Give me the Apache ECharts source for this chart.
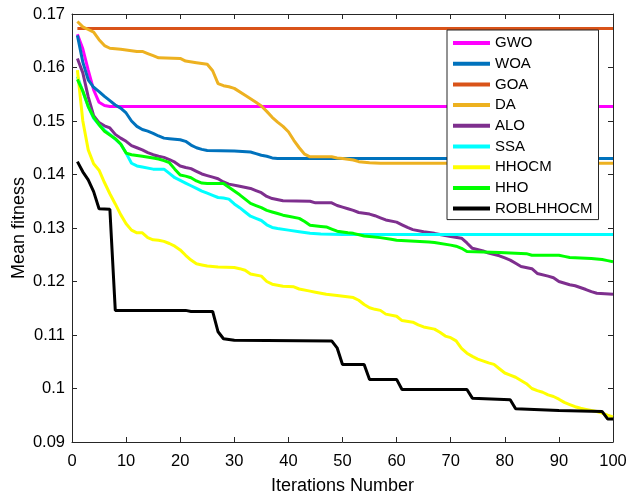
<!DOCTYPE html>
<html>
<head>
<meta charset="utf-8">
<script src="https://cdn.jsdelivr.net/npm/echarts@6/dist/echarts.min.js"></script>
<style>
  html, body { margin: 0; padding: 0; background: #fff; }
  #chart { width: 627px; height: 496px; }
</style>
</head>
<body>
<div id="chart"></div>
<script>
// Mean fitness per iteration for each optimiser, as [iteration, fitness] pairs.
const GWO = [[1,0.1662],[2,0.1635],[3,0.1595],[4,0.1558],[5,0.1535],[6,0.1529],[7,0.1527],[100,0.1527]];
const WOA = [[1,0.1660],[2,0.1610],[3,0.1577],[4,0.1563],[5,0.1555],[6,0.1546],[7,0.1538],[8,0.1530],[9,0.1524],[10,0.1515],[11,0.1500],[12,0.1490],[13,0.1484],[14,0.1481],[15,0.1477],[16,0.1472],[17,0.1468],[18,0.1467],[20,0.1465],[21,0.1462],[22,0.1455],[23,0.1450],[24,0.1447],[25,0.1445],[30,0.1444],[33,0.1442],[34,0.1439],[35,0.1436],[36,0.1434],[37,0.1431],[38,0.1430],[100,0.1430]];
const GOA = [[1,0.1673],[100,0.1673]];
const DA = [[1,0.1686],[2,0.1676],[3,0.1671],[4,0.1666],[5,0.1652],[6,0.1641],[7,0.1636],[9,0.1634],[12,0.1630],[13,0.1630],[14,0.1626],[15,0.1622],[16,0.1618],[20,0.1617],[21,0.1612],[23,0.1609],[25,0.1606],[26,0.1594],[27,0.1570],[28,0.1566],[29,0.1564],[30,0.1561],[32,0.1548],[34,0.1535],[35,0.1528],[36,0.1518],[37,0.1507],[38,0.1498],[39,0.1490],[40,0.1480],[41,0.1464],[42,0.1450],[43,0.1438],[44,0.1433],[48,0.1433],[49,0.1431],[50,0.1430],[52,0.1427],[53,0.1424],[55,0.1422],[57,0.1421],[100,0.1421]];
const ALO = [[1,0.1617],[2,0.1590],[3,0.1545],[4,0.1510],[5,0.1497],[6,0.1491],[7,0.1487],[8,0.1475],[9,0.1468],[10,0.1462],[11,0.1454],[12,0.1450],[13,0.1446],[14,0.1441],[15,0.1437],[16,0.1434],[17,0.1432],[18,0.1428],[19,0.1423],[20,0.1416],[21,0.1413],[22,0.1411],[23,0.1406],[24,0.1401],[25,0.1398],[26,0.1395],[27,0.1392],[28,0.1386],[29,0.1382],[31,0.1378],[33,0.1374],[34,0.1370],[35,0.1366],[36,0.1359],[37,0.1355],[39,0.1351],[44,0.1350],[45,0.1347],[48,0.1347],[49,0.1342],[50,0.1339],[51,0.1336],[52,0.1333],[53,0.1329],[55,0.1326],[56,0.1323],[57,0.1319],[58,0.1315],[60,0.1311],[61,0.1306],[62,0.1301],[63,0.1297],[65,0.1293],[67,0.1290],[68,0.1288],[70,0.1284],[72,0.1281],[73,0.1272],[74,0.1262],[76,0.1257],[77,0.1253],[79,0.1248],[80,0.1244],[81,0.1240],[82,0.1234],[83,0.1228],[85,0.1224],[86,0.1215],[88,0.1210],[89,0.1207],[90,0.1200],[92,0.1194],[93,0.1192],[95,0.1185],[96,0.1181],[97,0.1178],[100,0.1176]];
const SSA = [[1,0.1583],[2,0.1555],[3,0.1527],[4,0.1505],[5,0.1493],[6,0.1483],[7,0.1475],[8,0.1466],[9,0.1457],[10,0.1440],[11,0.1421],[12,0.1416],[13,0.1414],[15,0.1410],[17,0.1410],[18,0.1402],[19,0.1394],[20,0.1389],[21,0.1384],[22,0.1379],[23,0.1374],[24,0.1369],[25,0.1365],[26,0.1361],[27,0.1357],[28,0.1356],[29,0.1354],[30,0.1345],[31,0.1338],[32,0.1330],[33,0.1322],[34,0.1318],[35,0.1314],[36,0.1306],[37,0.1301],[38,0.1299],[40,0.1296],[42,0.1293],[44,0.1290],[46,0.1289],[50,0.1288],[100,0.1288]];
const HHOCM = [[1,0.1595],[2,0.1500],[3,0.1446],[4,0.1420],[5,0.1408],[6,0.1385],[7,0.1364],[8,0.1345],[9,0.1325],[10,0.1308],[11,0.1296],[12,0.1291],[13,0.1291],[14,0.1282],[15,0.1278],[16,0.1277],[17,0.1275],[18,0.1271],[19,0.1266],[20,0.1259],[21,0.1249],[22,0.1240],[23,0.1233],[24,0.1231],[25,0.1229],[27,0.1227],[30,0.1226],[31,0.1224],[32,0.1221],[33,0.1214],[35,0.1210],[36,0.1200],[37,0.1195],[39,0.1191],[41,0.1190],[42,0.1186],[44,0.1182],[45,0.1180],[47,0.1176],[49,0.1174],[52,0.1170],[53,0.1165],[54,0.1157],[55,0.1151],[56,0.1148],[57,0.1146],[58,0.1139],[60,0.1135],[61,0.1127],[63,0.1124],[64,0.1119],[65,0.1115],[67,0.1111],[68,0.1105],[69,0.1098],[70,0.1095],[71,0.1089],[72,0.1075],[73,0.1066],[74,0.1060],[75,0.1055],[77,0.1048],[78,0.1045],[79,0.1037],[80,0.1029],[81,0.1025],[82,0.1021],[83,0.1015],[84,0.1009],[85,0.1000],[86,0.0996],[87,0.0993],[88,0.0988],[89,0.0985],[90,0.0980],[91,0.0974],[92,0.0970],[93,0.0966],[94,0.0963],[95,0.0961],[96,0.0959],[97,0.0957],[98,0.0954],[99,0.0950],[100,0.0947]];
const HHO = [[1,0.1578],[2,0.1556],[3,0.1527],[4,0.1507],[5,0.1493],[6,0.1481],[7,0.1474],[8,0.1467],[9,0.1457],[10,0.1440],[11,0.1437],[13,0.1434],[15,0.1431],[16,0.1429],[17,0.1426],[18,0.1422],[19,0.1410],[20,0.1399],[21,0.1397],[22,0.1394],[23,0.1388],[24,0.1384],[25,0.1383],[28,0.1383],[29,0.1376],[30,0.1369],[31,0.1362],[32,0.1354],[33,0.1346],[34,0.1342],[35,0.1338],[36,0.1333],[37,0.1330],[38,0.1327],[39,0.1324],[40,0.1322],[42,0.1318],[43,0.1312],[44,0.1305],[46,0.1303],[47,0.1302],[48,0.1298],[49,0.1294],[51,0.1291],[52,0.1290],[54,0.1285],[57,0.1282],[59,0.1279],[60,0.1277],[66,0.1274],[67,0.1273],[70,0.1268],[71,0.1266],[72,0.1262],[73,0.1256],[79,0.1254],[84,0.1252],[85,0.1249],[90,0.1249],[91,0.1247],[92,0.1245],[96,0.1243],[98,0.1241],[99,0.1239],[100,0.1237]];
const ROBLHHOCM = [[1,0.1424],[2,0.1405],[3,0.1390],[4,0.1368],[5,0.1336],[7,0.1335],[8,0.1146],[21,0.1146],[22,0.1144],[26,0.1144],[27,0.1106],[28,0.1093],[30,0.1090],[48,0.1089],[49,0.1076],[50,0.1045],[54,0.1045],[55,0.1017],[60,0.1017],[61,0.0998],[73,0.0998],[74,0.0982],[81,0.0979],[82,0.0962],[90,0.0959],[98,0.0957],[99,0.0943],[100,0.0943]];

const names  = ['GWO', 'WOA', 'GOA', 'DA', 'ALO', 'SSA', 'HHOCM', 'HHO', 'ROBLHHOCM'];
const values = [GWO, WOA, GOA, DA, ALO, SSA, HHOCM, HHO, ROBLHHOCM];
const colors = ['#ff00ff', '#0072bd', '#d95319', '#edb120', '#7e2f8e', '#00ffff', '#ffff00', '#00ff00', '#000000'];

const FONT = '"Liberation Sans", Arial, Helvetica, sans-serif';
const INK = '#262626';

const axisCommon = {
  nameMoveOverlap: false,
  axisLine: { show: true, onZero: false, lineStyle: { color: INK, width: 1 } },
  axisTick: { show: true, inside: true, length: 5, lineStyle: { color: INK, width: 1 } },
  splitLine: { show: false }
};

const chart = echarts.init(document.getElementById('chart'), null, { renderer: 'canvas' });

chart.setOption({
  animation: false,
  backgroundColor: '#ffffff',
  grid: { left: 72, right: 14, top: 14, bottom: 54, containLabel: false, outerBoundsMode: 'none' },
  legend: {
    orient: 'vertical',
    left: 447,
    top: 30,
    z: 50,
    padding: [5, 6, 3, 6],
    itemWidth: 37,
    itemHeight: 4,
    itemGap: 4.7,
    icon: 'rect',
    borderColor: INK,
    borderWidth: 1,
    backgroundColor: '#ffffff',
    textStyle: { fontFamily: FONT, fontSize: 15, color: '#000', lineHeight: 16 },
    data: names
  },
  xAxis: [
    Object.assign({
      type: 'value', position: 'bottom', min: 0, max: 100, interval: 10,
      name: 'Iterations Number', nameLocation: 'middle', nameGap: 35,
      nameTextStyle: { fontFamily: FONT, fontSize: 18, color: '#000' },
      axisLabel: { fontFamily: FONT, fontSize: 16.5, color: '#000', margin: 11 }
    }, axisCommon),
    Object.assign({
      type: 'value', position: 'top', min: 0, max: 100, interval: 10,
      axisLabel: { show: false }
    }, axisCommon)
  ],
  yAxis: [
    Object.assign({
      type: 'value', position: 'left', min: 0.09, max: 0.17, interval: 0.01,
      name: 'Mean fitness', nameLocation: 'middle', nameGap: 44,
      nameTextStyle: { fontFamily: FONT, fontSize: 18, color: '#000' },
      axisLabel: {
        fontFamily: FONT, fontSize: 16.5, color: '#000', margin: 7,
        formatter: v => String(parseFloat(v.toFixed(2)))
      }
    }, axisCommon),
    Object.assign({
      type: 'value', position: 'right', min: 0.09, max: 0.17, interval: 0.01,
      axisLabel: { show: false }
    }, axisCommon)
  ],
  series: names.map((n, i) => ({
    name: n,
    type: 'line',
    xAxisIndex: 0,
    yAxisIndex: 0,
    data: values[i],
    showSymbol: false,
    symbol: 'none',
    color: colors[i],
    lineStyle: { color: colors[i], width: 3 },
    z: 2 + i
  }))
});
</script>
</body>
</html>
